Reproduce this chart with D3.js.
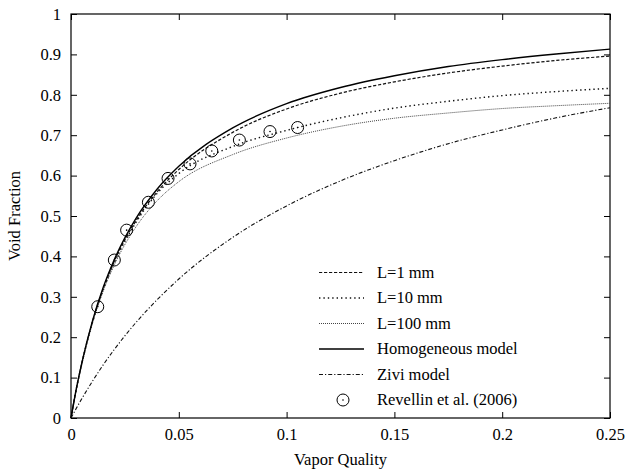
<!DOCTYPE html>
<html>
<head>
<meta charset="utf-8">
<script src="https://cdn.jsdelivr.net/npm/d3@7"></script>
<style>
  body { margin: 0; background: white; }
  text { font-family: "Liberation Serif", "Times New Roman", serif; fill: black; }
</style>
</head>
<body>
<div id="viz"></div>
<script>

// vapor quality grid used by the model curves
var quality = [0, 0.0025, 0.005, 0.01, 0.015, 0.02, 0.03, 0.04, 0.05, 0.075, 0.1, 0.125, 0.15, 0.175, 0.2, 0.225, 0.25];

var homogeneous = [0, 0.073, 0.136, 0.241, 0.324, 0.391, 0.493, 0.567, 0.623, 0.718, 0.778, 0.818, 0.847, 0.870, 0.887, 0.901, 0.913];
var l1mm        = [0, 0.073, 0.135, 0.239, 0.321, 0.387, 0.487, 0.560, 0.615, 0.707, 0.765, 0.804, 0.832, 0.854, 0.871, 0.885, 0.896];
var l10mm       = [0, 0.073, 0.134, 0.237, 0.318, 0.383, 0.483, 0.556, 0.605, 0.672, 0.712, 0.743, 0.767, 0.784, 0.798, 0.808, 0.816];
var l100mm      = [0, 0.072, 0.133, 0.235, 0.315, 0.378, 0.472, 0.538, 0.585, 0.652, 0.693, 0.722, 0.742, 0.755, 0.766, 0.773, 0.779];
var zivi        = [0, 0.0244, 0.0477, 0.0914, 0.132, 0.169, 0.2355, 0.293, 0.344, 0.447, 0.525, 0.587, 0.637, 0.679, 0.713, 0.743, 0.768];

// Revellin et al. (2006) measurements
var revX = [0.0124, 0.0201, 0.0258, 0.0359, 0.0450, 0.0552, 0.0653, 0.0781, 0.0923, 0.1051];
var revY = [0.2755, 0.391, 0.465, 0.534, 0.593, 0.629, 0.661, 0.688, 0.709, 0.719];

var xTicks = [0, 0.05, 0.1, 0.15, 0.2, 0.25];
var yTicks = [0, 0.1, 0.2, 0.3, 0.4, 0.5, 0.6, 0.7, 0.8, 0.9, 1];

var seriesNames = ['L=1 mm', 'L=10 mm', 'L=100 mm', 'Homogeneous model', 'Zivi model'];

var width = 625,
    height = 472,
    plotLeft = 71,
    plotRight = 610,
    plotTop = 14,
    plotBottom = 418,
    tickLen = 6;

var xScale, yScale, line, svg, plot, series, legend;

xScale = d3.scaleLinear().domain([0, 0.25]).range([plotLeft, plotRight]);
yScale = d3.scaleLinear().domain([0, 1]).range([plotBottom, plotTop]);

svg = d3.select('#viz').append('svg')
  .attr('width', width)
  .attr('height', height);

// axes: ticks inside, mirrored on top and right
svg.append('g')
  .attr('transform', 'translate(0,' + plotBottom + ')')
  .call(d3.axisBottom(xScale).tickValues(xTicks).tickSize(-tickLen).tickPadding(10)
    .tickFormat(function(d) { return d3.format('~g')(d); }));
svg.append('g')
  .attr('transform', 'translate(0,' + plotTop + ')')
  .call(d3.axisTop(xScale).tickValues(xTicks).tickSize(-tickLen).tickFormat(''));
svg.append('g')
  .attr('transform', 'translate(' + plotLeft + ',0)')
  .call(d3.axisLeft(yScale).tickValues(yTicks).tickSize(-tickLen).tickPadding(10)
    .tickFormat(function(d) { return d3.format('~g')(d); }));
svg.append('g')
  .attr('transform', 'translate(' + plotRight + ',0)')
  .call(d3.axisRight(yScale).tickValues(yTicks).tickSize(-tickLen).tickFormat(''));

svg.selectAll('.domain').remove();
svg.selectAll('.tick line').attr('stroke', 'black');
svg.selectAll('.tick text')
  .style('font-size', '16.5px')
  .style('font-family', '"Liberation Serif", serif');

svg.append('rect')
  .attr('x', plotLeft).attr('y', plotTop)
  .attr('width', plotRight - plotLeft).attr('height', plotBottom - plotTop)
  .attr('fill', 'none')
  .attr('stroke', 'black')
  .attr('stroke-width', 1.2);

svg.append('text')
  .attr('x', (plotLeft + plotRight) / 2)
  .attr('y', 465)
  .attr('text-anchor', 'middle')
  .style('font-size', '16.5px')
  .text('Vapor Quality');

svg.append('text')
  .attr('transform', 'translate(20,' + ((plotTop + plotBottom) / 2) + ') rotate(-90)')
  .attr('text-anchor', 'middle')
  .style('font-size', '16.5px')
  .text('Void Fraction');

// curves
series = [
  { name: seriesNames[0], values: l1mm, dash: '3.2,1.8', width: 1.2, color: '#111' },
  { name: seriesNames[1], values: l10mm, dash: '1.4,3', width: 1.4, color: '#111' },
  { name: seriesNames[2], values: l100mm, dash: '1,1', width: 1, color: '#444' },
  { name: seriesNames[3], values: homogeneous, dash: null, width: 1.4, color: '#000' },
  { name: seriesNames[4], values: zivi, dash: '4,2,1.2,2', width: 1.1, color: '#111' }
];

line = d3.line()
  .x(function(d) { return xScale(d[0]); })
  .y(function(d) { return yScale(d[1]); })
  .curve(d3.curveMonotoneX);

plot = svg.append('g');

plot.selectAll('path.curve').data(series)
  .enter().append('path')
    .attr('class', 'curve')
    .attr('fill', 'none')
    .attr('stroke', function(d) { return d.color; })
    .attr('stroke-width', function(d) { return d.width; })
    .attr('stroke-dasharray', function(d) { return d.dash; })
    .attr('d', function(d) {
      return line(quality.map(function(q, i) { return [q, d.values[i]]; }));
    });

var points = plot.selectAll('g.rev').data(revX)
  .enter().append('g')
    .attr('class', 'rev')
    .attr('transform', function(d, i) {
      return 'translate(' + xScale(d) + ',' + yScale(revY[i]) + ')';
    });
points.append('circle')
  .attr('r', 6)
  .attr('fill', 'none')
  .attr('stroke', 'black')
  .attr('stroke-width', 1);
points.append('circle')
  .attr('r', 0.8)
  .attr('fill', 'black');

// legend
legend = svg.append('g');

var rows = legend.selectAll('g').data(series)
  .enter().append('g')
    .attr('transform', function(d, i) {
      return 'translate(0,' + (272.5 + i * 25.5) + ')';
    });
rows.append('line')
  .attr('x1', 319).attr('x2', 364)
  .attr('y1', 0).attr('y2', 0)
  .attr('stroke', function(d) { return d.color; })
  .attr('stroke-width', function(d) { return d.width; })
  .attr('stroke-dasharray', function(d) { return d.dash; });
rows.append('text')
  .attr('x', 377)
  .attr('dy', '0.33em')
  .style('font-size', '16.5px')
  .text(function(d) { return d.name; });

var revRow = legend.append('g')
  .attr('transform', 'translate(0,' + (272.5 + 5 * 25.5) + ')');
revRow.append('circle')
  .attr('cx', 343).attr('r', 6)
  .attr('fill', 'none')
  .attr('stroke', 'black');
revRow.append('circle')
  .attr('cx', 343).attr('r', 0.8)
  .attr('fill', 'black');
revRow.append('text')
  .attr('x', 377)
  .attr('dy', '0.33em')
  .style('font-size', '16.5px')
  .text('Revellin et al. (2006)');

</script>
</body>
</html>
